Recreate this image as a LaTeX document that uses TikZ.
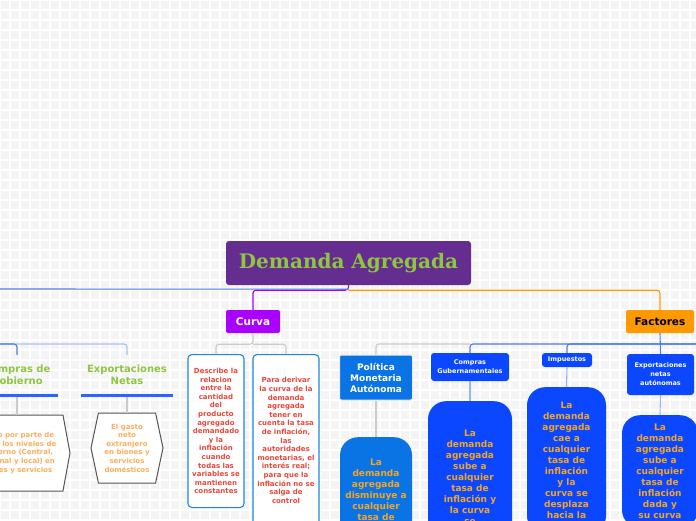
\documentclass[tikz,border=0pt]{standalone}
\usepackage{fontspec}
\setmainfont{DejaVu Sans}
\newfontfamily\slabfont{DejaVu Serif}
\usepackage{tikz}
\usetikzlibrary{positioning,shapes.symbols,calc}
\usepackage{xcolor}

\definecolor{bggray}{HTML}{F4F4F4}
\definecolor{rootpurple}{HTML}{662D91}
\definecolor{titlegreen}{HTML}{8DC63F}
\definecolor{curvapurple}{HTML}{AA00FF}
\definecolor{factorange}{HTML}{FF9900}
\definecolor{royal}{HTML}{0A47FF}
\definecolor{midblue}{HTML}{0B74E5}
\definecolor{linkblue}{HTML}{4A7BEF}
\definecolor{paleblue}{HTML}{A9C2FA}
\definecolor{linkgray}{HTML}{CCCCCC}
\definecolor{notered}{HTML}{E8473B}
\definecolor{noteblue}{HTML}{1E88E5}
\definecolor{gold}{HTML}{F5A623}
\definecolor{peach}{HTML}{FBAE5C}
\definecolor{hexgray}{HTML}{555555}

\begin{document}
\begin{tikzpicture}[
  x=1pt, y=-1pt,
  every node/.style={inner sep=0pt},
  link/.style={line width=1.1pt},
  rootbox/.style={fill=rootpurple, rounded corners=3pt, minimum width=245, minimum height=44, text=titlegreen, font=\slabfont\bfseries\fontsize{20}{22}\selectfont},
  branch/.style={rounded corners=2pt, minimum height=23, font=\bfseries\fontsize{10.5}{12}\selectfont},
  note/.style={draw=noteblue, line width=1.1pt, fill=white, rounded corners=4pt, align=center, text=notered, font=\bfseries\fontsize{7}{8.6}\selectfont},
  polbox/.style={draw=white!85!gray, line width=1pt, fill=midblue, rounded corners=2pt, align=center, text=white, minimum width=73, minimum height=45, font=\bfseries\fontsize{9}{11}\selectfont},
  subbox/.style={fill=royal, rounded corners=3pt, align=center, text=white, font=\bfseries\fontsize{6.5}{9}\selectfont},
  effect/.style={fill=royal, rounded corners=18pt, align=center, text=gold, font=\bfseries\fontsize{9}{11}\selectfont},
  greenlabel/.style={align=center, text=titlegreen, inner ysep=10pt, font=\bfseries\fontsize{10}{12}\selectfont},
  underline/.style={draw=royal!85!white, line width=3pt},
  hexa/.style={signal, signal to=east and west, draw=hexgray, line width=1pt, fill=white, align=center, text=peach, font=\bfseries\fontsize{7}{8.6}\selectfont},
]
\useasboundingbox (0,0) rectangle (696,520);
\clip (0,0) rectangle (696,520);
\fill[bggray] (0,0) rectangle (696,520);
\draw[white, line width=2pt, xstep=10pt, ystep=10pt] (0,0) grid (696,520);

% main topic and branches
\node[rootbox] (root) at (348.5,263) {Demanda Agregada};
\node[branch, fill=curvapurple, text=white, minimum width=54] (curva) at (253,321.5) {Curva};
\node[branch, fill=factorange, text=black, minimum width=68] (factores) at (660,321.5) {Factores};

% curva
\node[note, minimum width=56, minimum height=153, anchor=north] (relacion) at (216,354) {Describe la\\relacion\\entre la\\cantidad\\del\\producto\\agregado\\demandado\\y la\\inflación\\cuando\\todas las\\variables se\\mantienen\\constantes};
\node[note, minimum width=66, minimum height=172, anchor=north] (derivar) at (286,354) {Para derivar\\la curva de la\\demanda\\agregada\\tener en\\cuenta la tasa\\de inflación,\\las\\autoridades\\monetarias, el\\interés real;\\para que la\\inflación no se\\salga de\\control};

% factores
\node[polbox] (politica) at (376,377.5) {Política\\Monetaria\\Autónoma};
\node[subbox, minimum width=78, minimum height=28] (compras) at (470,367) {Compras\\Gubernamentales};
\node[subbox, minimum width=50, minimum height=14] (impuestos) at (567,360) {Impuestos};
\node[subbox, minimum width=67, minimum height=41] (exporta) at (660.5,374.5) {Exportaciones\\netas\\autónomas};

\node[effect, fill=midblue, minimum width=72, inner ysep=22pt, anchor=north] (polEfecto) at (376,437) {La\\demanda\\agregada\\disminuye a\\cualquier\\tasa de};
\node[effect, minimum width=84, inner ysep=29pt, anchor=north] (comprasEfecto) at (470,401) {La\\demanda\\agregada\\sube a\\cualquier\\tasa de\\inflación y\\la curva\\se};
\node[effect, minimum width=79, inner ysep=15pt, anchor=north] (impEfecto) at (566.5,387) {La\\demanda\\agregada\\cae a\\cualquier\\tasa de\\inflación\\y la\\curva se\\desplaza\\hacia la};
\node[effect, minimum width=76, inner ysep=9pt, anchor=north] (expEfecto) at (660,415) {La\\demanda\\agregada\\sube a\\cualquier\\tasa de\\inflación\\dada y\\su curva};

% left side
\node[greenlabel, minimum width=82, anchor=south] (gobLabel) at (17,395) {Compras de\\Gobierno};
\node[greenlabel, minimum width=92, anchor=south] (netasLabel) at (127,395) {Exportaciones\\Netas};
\node[hexa, minimum width=106, minimum height=76, signal pointer angle=159] (gobHex) at (17,453) {Gasto por parte de\\todos los niveles de\\gobierno (Central,\\regional y local) en\\bienes y servicios};
\node[hexa, minimum width=72, minimum height=70, signal pointer angle=156] (netasHex) at (127,448) {El gasto\\neto\\extranjero\\en bienes y\\servicios\\domésticos};

\coordinate (offLeft) at (0,289);
\coordinate (offBus) at (0,344);
\coordinate (offRight) at (696,344);

% connectors
\draw[link, curvapurple, rounded corners=3pt] (root.south) -- ++(0,5) -| (curva.north);
\draw[link, factorange, rounded corners=3pt] (root.south) ++(0,5) -| (factores.north);
\draw[link, linkblue] (root.south) ++(0,4) -- (offLeft);

\draw[link, linkgray, rounded corners=3pt] (curva.south) -- ++(0,11) -| (relacion.north);
\draw[link, linkgray, rounded corners=3pt] (curva.south) ++(0,11) -| (derivar.north);

\draw[link, linkgray, rounded corners=3pt] (politica.north) |- (compras.north |- offRight);
\draw[link, linkblue, rounded corners=3pt] (offRight) -| (compras.north);
\draw[link, linkblue, rounded corners=3pt] (offRight) -| (impuestos.north);
\draw[link, linkblue] (factores.south) -- (exporta.north);

\draw[link, linkgray] (politica.south) -- (polEfecto.north);
\draw[link, paleblue!80!linkblue] (compras.south) -- (comprasEfecto.north);
\draw[link, paleblue!80!linkblue] (impuestos.south) -- (impEfecto.north);
\draw[link, paleblue!80!linkblue] (exporta.south) -- (expEfecto.north);

\draw[link, paleblue, rounded corners=3pt] (offBus) -| (netasLabel.north);
\draw[link, linkblue, rounded corners=3pt] (offBus) -| (gobLabel.north);
\draw[link, linkgray] (gobLabel.south) -- (gobHex.north);
\draw[link, linkgray] (netasLabel.south) -- (netasHex.north);
\draw[underline] (gobLabel.south west) -- (gobLabel.south east);
\draw[underline] (netasLabel.south west) -- (netasLabel.south east);
\end{tikzpicture}
\end{document}
